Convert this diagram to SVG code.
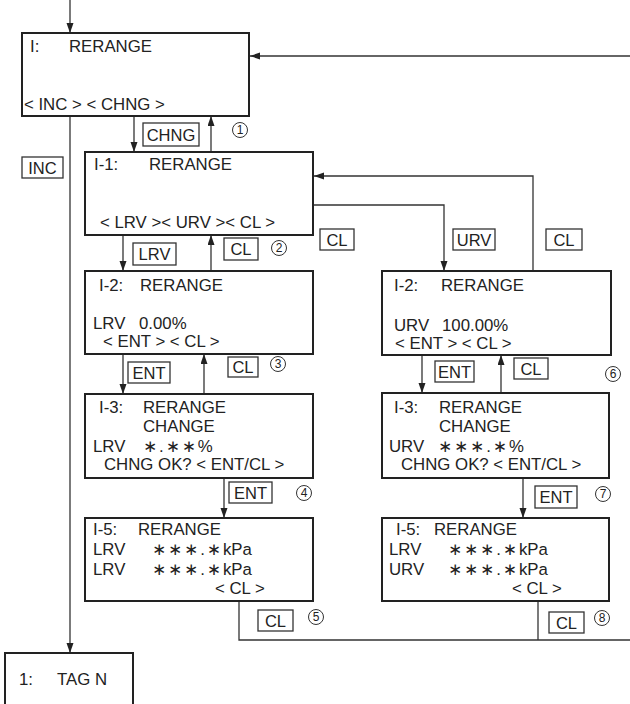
<svg xmlns="http://www.w3.org/2000/svg" width="630" height="704" viewBox="0 0 630 704">
<defs>
<marker id="ah" markerUnits="userSpaceOnUse" markerWidth="11" markerHeight="8" refX="10" refY="3.5" orient="auto">
<path d="M0,0 L10,3.5 L0,7 z" fill="#222"/>
</marker>
<style>
.box{fill:#fff;stroke:#222;stroke-width:2}
.lbl{fill:#fff;stroke:#333;stroke-width:1.3}
.con{fill:none;stroke:#333;stroke-width:1.3}
.arr{marker-end:url(#ah)}
text{font-family:"Liberation Sans",Arial,"DejaVu Sans",sans-serif;font-size:16.8px;fill:#222}
.c{text-anchor:middle;font-size:16.5px}
.ast{letter-spacing:2px}
.num{font-size:12px;text-anchor:middle}
.cir{fill:none;stroke:#333;stroke-width:1}
</style>
</defs>
<rect width="630" height="704" fill="#fff"/>

<g id="connectors">
<line class="con arr" x1="70" y1="0" x2="70" y2="33"/>
<line class="con arr" x1="630" y1="56" x2="250" y2="56"/>
<line class="con arr" x1="134" y1="116" x2="134" y2="152"/>
<line class="con arr" x1="211" y1="152" x2="211" y2="116"/>
<line class="con arr" x1="70" y1="116" x2="70" y2="653"/>
<line class="con arr" x1="123" y1="235" x2="123" y2="271"/>
<line class="con arr" x1="211" y1="271" x2="211" y2="235"/>
<path class="con arr" d="M313,205 H444 V271"/>
<path class="con arr" d="M533,271 V176 H314"/>
<line class="con arr" x1="123" y1="354" x2="123" y2="394"/>
<line class="con arr" x1="204" y1="394" x2="204" y2="354"/>
<line class="con arr" x1="224" y1="478" x2="224" y2="518"/>
<path class="con" d="M239,601 V640 H630"/>
<line class="con arr" x1="422" y1="355" x2="422" y2="393"/>
<line class="con arr" x1="501" y1="393" x2="501" y2="355"/>
<line class="con arr" x1="523" y1="478" x2="523" y2="518"/>
<line class="con" x1="538" y1="601" x2="538" y2="640"/>
</g>

<g id="node-I">
<rect class="box" x="22" y="33" width="227" height="83"/>
<text x="30" y="52">I:</text>
<text x="69" y="52">RERANGE</text>
<text x="24" y="110">&lt; INC &gt; &lt; CHNG &gt;</text>
</g>

<g id="node-I-1">
<rect class="box" x="85" y="152" width="228" height="83"/>
<text x="94" y="170">I-1:</text>
<text x="149" y="170">RERANGE</text>
<text x="100" y="228">&lt; LRV &gt;&lt; URV &gt;&lt; CL &gt;</text>
</g>

<g id="node-I-2-lrv">
<rect class="box" x="85" y="271" width="228" height="83"/>
<text x="99" y="291">I-2:</text>
<text x="140" y="291">RERANGE</text>
<text x="93" y="329">LRV</text>
<text x="139" y="329">0.00%</text>
<text x="103" y="347">&lt; ENT &gt; &lt; CL &gt;</text>
</g>

<g id="node-I-3-lrv">
<rect class="box" x="85" y="394" width="228" height="84"/>
<text x="99" y="412.5">I-3:</text>
<text x="143" y="412.5">RERANGE</text>
<text x="143" y="431.5">CHANGE</text>
<text x="93" y="452">LRV</text>
<text x="143" y="452"><tspan class="ast">∗.∗∗</tspan>%</text>
<text x="104" y="470">CHNG OK? &lt; ENT/CL &gt;</text>
</g>

<g id="node-I-5-lrv">
<rect class="box" x="85" y="518" width="228" height="83"/>
<text x="93" y="535">I-5:</text>
<text x="138" y="535">RERANGE</text>
<text x="93" y="555">LRV</text>
<text x="152" y="555"><tspan class="ast">∗∗∗.∗</tspan>kPa</text>
<text x="93" y="575">LRV</text>
<text x="152" y="575"><tspan class="ast">∗∗∗.∗</tspan>kPa</text>
<text x="215" y="594">&lt; CL &gt;</text>
</g>

<g id="node-I-2-urv">
<rect class="box" x="382" y="271" width="229" height="84"/>
<text x="394" y="291">I-2:</text>
<text x="441" y="291">RERANGE</text>
<text x="394" y="331">URV</text>
<text x="442" y="331">100.00%</text>
<text x="395" y="349">&lt; ENT &gt; &lt; CL &gt;</text>
</g>

<g id="node-I-3-urv">
<rect class="box" x="382" y="393" width="227" height="85"/>
<text x="394" y="412.5">I-3:</text>
<text x="439" y="412.5">RERANGE</text>
<text x="439" y="431.5">CHANGE</text>
<text x="389" y="452">URV</text>
<text x="438" y="452"><tspan class="ast">∗∗∗.∗</tspan>%</text>
<text x="401" y="470">CHNG OK? &lt; ENT/CL &gt;</text>
</g>

<g id="node-I-5-urv">
<rect class="box" x="382" y="518" width="227" height="83"/>
<text x="396" y="535">I-5:</text>
<text x="434" y="535">RERANGE</text>
<text x="389" y="555">LRV</text>
<text x="448" y="555"><tspan class="ast">∗∗∗.∗</tspan>kPa</text>
<text x="389" y="575">URV</text>
<text x="448" y="575"><tspan class="ast">∗∗∗.∗</tspan>kPa</text>
<text x="512" y="594">&lt; CL &gt;</text>
</g>

<g id="node-1">
<rect class="box" x="5" y="653" width="128" height="60"/>
<text x="19" y="685">1:</text>
<text x="57" y="685">TAG N</text>
</g>

<g id="key-labels">
<rect class="lbl" x="143" y="123" width="56" height="23"/><text class="c" x="171" y="141">CHNG</text>
<rect class="lbl" x="22" y="157" width="41" height="21"/><text class="c" x="42.5" y="174">INC</text>
<rect class="lbl" x="133" y="243" width="43" height="22"/><text class="c" x="154.5" y="260">LRV</text>
<rect class="lbl" x="224" y="238" width="34" height="22"/><text class="c" x="241" y="255">CL</text>
<rect class="lbl" x="320" y="229" width="34" height="21"/><text class="c" x="337" y="246">CL</text>
<rect class="lbl" x="453" y="229" width="42" height="21"/><text class="c" x="474" y="246">URV</text>
<rect class="lbl" x="546" y="229" width="36" height="21"/><text class="c" x="564" y="246">CL</text>
<rect class="lbl" x="128" y="362" width="42" height="21"/><text class="c" x="149" y="379">ENT</text>
<rect class="lbl" x="228" y="357" width="30" height="20"/><text class="c" x="243" y="373">CL</text>
<rect class="lbl" x="435" y="361" width="39" height="21"/><text class="c" x="454.5" y="378">ENT</text>
<rect class="lbl" x="514" y="358" width="34" height="21"/><text class="c" x="531" y="375">CL</text>
<rect class="lbl" x="229" y="482" width="43" height="21"/><text class="c" x="250.5" y="499">ENT</text>
<rect class="lbl" x="535" y="486" width="42" height="22"/><text class="c" x="556" y="503">ENT</text>
<rect class="lbl" x="258" y="610" width="35" height="21"/><text class="c" x="275.5" y="627">CL</text>
<rect class="lbl" x="549" y="612" width="35" height="21"/><text class="c" x="566.5" y="629">CL</text>
</g>

<g id="step-numbers">
<circle class="cir" cx="240" cy="130" r="7.5"/><text class="num" x="240" y="134.3">1</text>
<circle class="cir" cx="279" cy="248" r="7.5"/><text class="num" x="279" y="252.3">2</text>
<circle class="cir" cx="278" cy="364" r="7.5"/><text class="num" x="278" y="368.3">3</text>
<circle class="cir" cx="304" cy="493" r="7.5"/><text class="num" x="304" y="497.3">4</text>
<circle class="cir" cx="316" cy="617" r="7.5"/><text class="num" x="316" y="621.3">5</text>
<circle class="cir" cx="613" cy="374" r="7.5"/><text class="num" x="613" y="378.3">6</text>
<circle class="cir" cx="603" cy="494" r="7.5"/><text class="num" x="603" y="498.3">7</text>
<circle class="cir" cx="602" cy="618" r="7.5"/><text class="num" x="602" y="622.3">8</text>
</g>
</svg>
